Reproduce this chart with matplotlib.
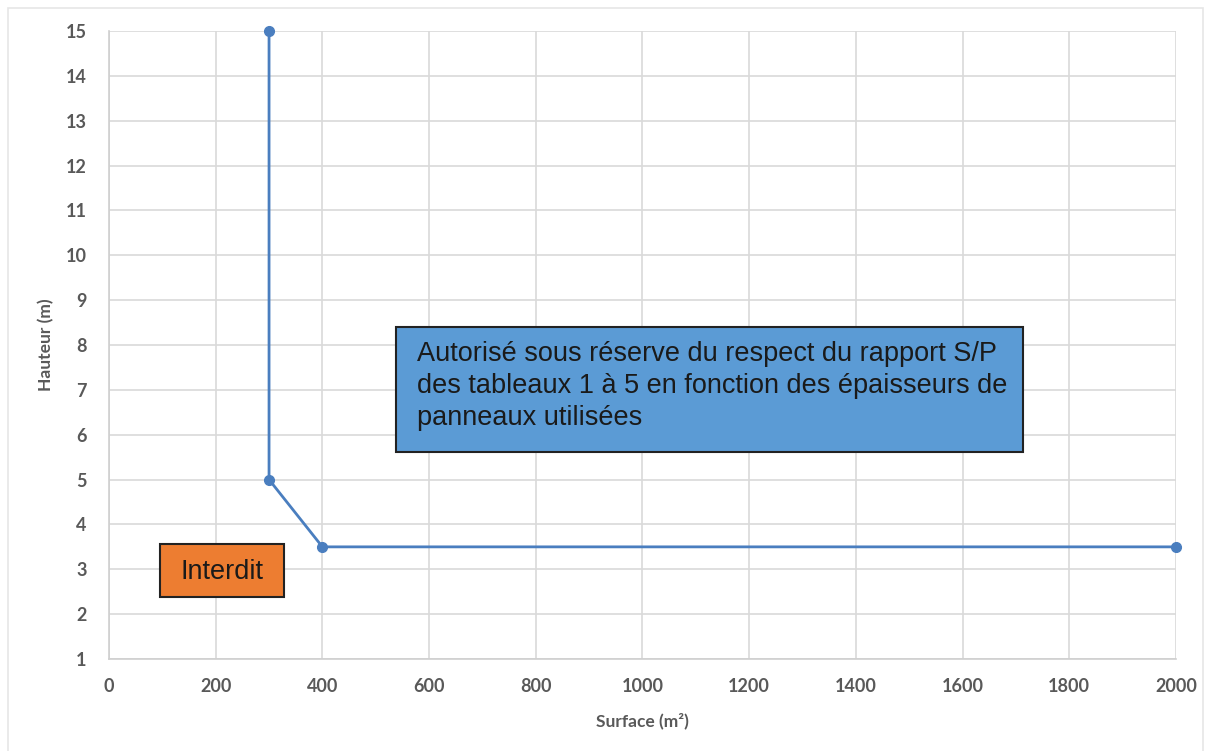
import matplotlib

matplotlib.use("Agg")
import matplotlib.pyplot as plt  # noqa: E402
from matplotlib.patches import Rectangle  # noqa: E402

# limit curve
surface = [300, 300, 400, 2000]
hauteur = [15, 5, 3.5, 3.5]

x_ticks = list(range(0, 2001, 200))
y_ticks = list(range(1, 16))

zone_ok_text = ("Autorisé sous réserve du respect du rapport S/P\n"
                "des tableaux 1 à 5 en fonction des épaisseurs de\n"
                "panneaux utilisées")
zone_ko_text = "Interdit"

TICK_GREY = "#595959"
GRID = "#d9d9d9"

fig = plt.figure(figsize=(12.07, 7.51), dpi=100)
ax = fig.add_axes([0.0903, 0.1225, 0.8840, 0.8362])

# outer chart frame
fig.patches.append(Rectangle((0.007, -0.01), 0.99, 0.999, transform=fig.transFigure,
                             fill=False, edgecolor="#e6e6e6", linewidth=1.2))

ax.plot(surface, hauteur, color="#4a7ebf", linewidth=2, marker="o",
        markersize=7, zorder=3, clip_on=False)

ax.set_xlim(0, 2000)
ax.set_ylim(1, 15)
ax.set_xticks(x_ticks)
ax.set_yticks(y_ticks)
ax.grid(True, color=GRID, linewidth=1.2)
ax.set_axisbelow(True)
for side in ("top", "right"):
    ax.spines[side].set_visible(False)
for side in ("left", "bottom"):
    ax.spines[side].set_color("#cfcfcf")
    ax.spines[side].set_linewidth(1.2)
ax.tick_params(length=0, labelsize=13, labelcolor=TICK_GREY)
ax.tick_params(axis="x", pad=14)
ax.tick_params(axis="y", pad=16)
for lbl in ax.get_xticklabels() + ax.get_yticklabels():
    lbl.set_fontweight("bold")
    lbl.set_family("Lato")

ax.set_xlabel("Surface (m²)", fontsize=12.5, fontweight="bold", color=TICK_GREY,
              family="Lato", labelpad=12)
ax.set_ylabel("Hauteur (m)", fontsize=12.5, fontweight="bold", color=TICK_GREY,
              family="Lato", labelpad=8)

# annotation boxes
ax.add_patch(Rectangle((538, 5.62), 1175, 2.78, facecolor="#5b9bd5",
                       edgecolor="#222222", linewidth=1.5, zorder=4))
ax.text(578, 8.08, zone_ok_text, ha="left", va="top", fontsize=19.5,
        family="Liberation Sans", color="#1a1a1a", linespacing=1.3, zorder=5)

ax.add_patch(Rectangle((96, 2.38), 232, 1.18, facecolor="#ed7d31",
                       edgecolor="#222222", linewidth=1.5, zorder=4))
ax.text(212, 2.95, zone_ko_text, ha="center", va="center", fontsize=19.5,
        family="Liberation Sans", color="#1a1a1a", zorder=5)

fig.savefig("out.png", dpi=100)
plt.close(fig)
